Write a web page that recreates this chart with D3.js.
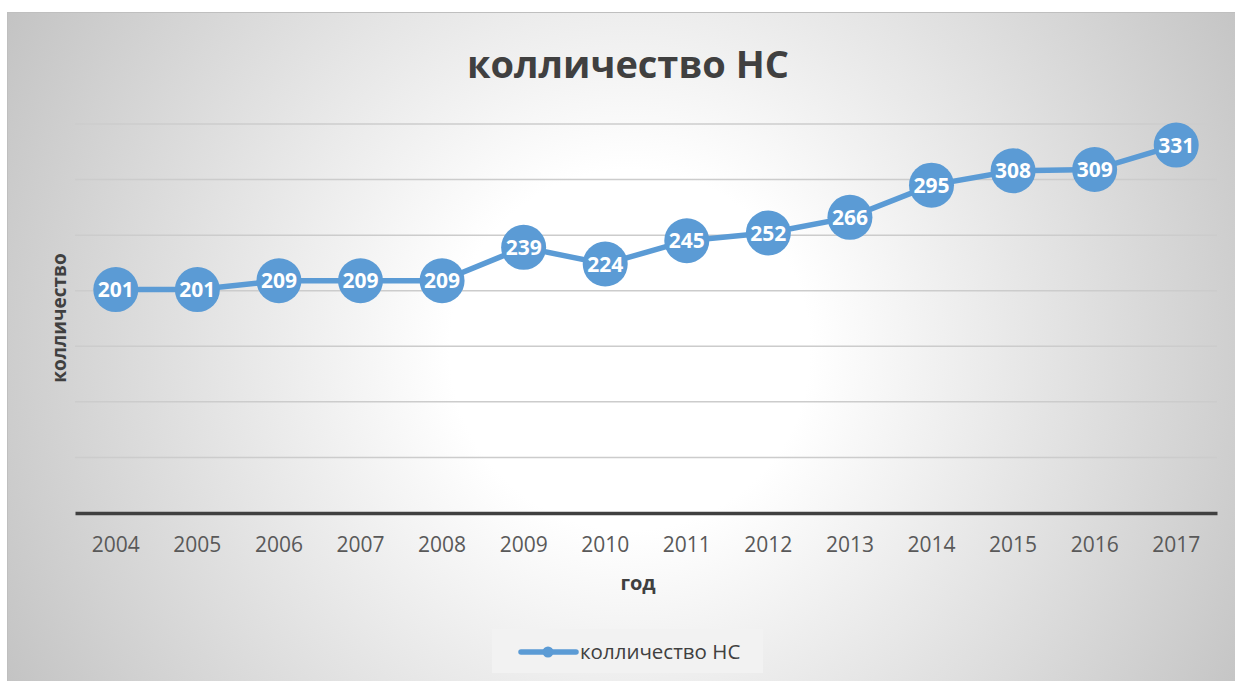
<!DOCTYPE html>
<html><head><meta charset="utf-8">
<script src="https://cdn.jsdelivr.net/npm/d3@7"></script>
<style>html,body{margin:0;padding:0;background:#fff;}svg{display:block;}</style>
</head><body>
<svg id="c" width="1235" height="681"></svg>
<script>
const years = ["2004","2005","2006","2007","2008","2009","2010","2011","2012","2013","2014","2015","2016","2017"];
const values = [201,201,209,209,209,239,224,245,252,266,295,308,309,331];
const yTicks = [0,50,100,150,200,250,300,350];
const seriesName = "колличество НС";
const titleText = "колличество НС";
const xTitle = "год";
const yTitle = "колличество";

(function(){
const svg = d3.select("#c");
const font = "'Open Sans', 'Liberation Sans', sans-serif";
const defs = svg.append("defs");
const rg = defs.append("radialGradient").attr("id","bg")
  .attr("gradientUnits","userSpaceOnUse").attr("cx",630).attr("cy",350).attr("r",720);
rg.append("stop").attr("offset","0.25").attr("stop-color","#ffffff");
rg.append("stop").attr("offset","1").attr("stop-color","#c2c2c2");

svg.append("rect").attr("x",7.5).attr("y",12.5).attr("width",1230).attr("height",670)
  .attr("fill","url(#bg)").attr("stroke","#bfbfbf").attr("stroke-width",1);

const pl=75, pr=1217, pt=124, pb=513;
const x = d3.scaleBand().domain(years).range([pl,pr]);
const y = d3.scaleLinear().domain([0,350]).range([pb,pt]);

svg.append("g").selectAll("line").data(yTicks.filter(d=>d>0)).join("line")
  .attr("x1",pl).attr("x2",pr).attr("y1",d=>y(d)).attr("y2",d=>y(d))
  .attr("stroke","#cccccc").attr("stroke-width",1.5);

const xa = svg.append("g").attr("transform",`translate(0,${pb})`)
  .call(d3.axisBottom(x).tickSize(0).tickPadding(24));
xa.select(".domain").attr("stroke","#404040").attr("stroke-width",3.5);
xa.selectAll("text").attr("font-family",font).attr("font-size",21).attr("fill","#595959");

const line = d3.line().x((d,i)=>x(years[i])+x.bandwidth()/2).y(d=>y(d));
svg.append("path").datum(values).attr("d",line).attr("fill","none")
  .attr("stroke","#5b9bd5").attr("stroke-width",5.5);

const pts = svg.append("g").selectAll("g").data(values).join("g")
  .attr("transform",(d,i)=>`translate(${x(years[i])+x.bandwidth()/2},${y(d)})`);
pts.append("circle").attr("r",22.5).attr("fill","#5b9bd5");
pts.append("text").text(d=>d).attr("text-anchor","middle").attr("dy","0.37em")
  .attr("font-family",font).attr("font-weight","bold").attr("font-size",21).attr("fill","#fff");

svg.append("text").text(titleText).attr("x",628).attr("y",78).attr("text-anchor","middle")
  .attr("font-family",font).attr("font-weight","bold").attr("font-size",38).attr("fill","#404040");
svg.append("text").text(xTitle).attr("x",638).attr("y",590).attr("text-anchor","middle")
  .attr("font-family",font).attr("font-weight","bold").attr("font-size",20).attr("fill","#404040");
svg.append("text").text(yTitle).attr("transform","translate(66,318) rotate(-90)").attr("text-anchor","middle")
  .attr("font-family",font).attr("font-weight","bold").attr("font-size",19).attr("fill","#404040");

const lg = svg.append("g");
lg.append("rect").attr("x",492).attr("y",629).attr("width",271).attr("height",44).attr("fill","#f2f2f2");
lg.append("line").attr("x1",521).attr("x2",576).attr("y1",652).attr("y2",652)
  .attr("stroke","#5b9bd5").attr("stroke-width",5.5).attr("stroke-linecap","round");
lg.append("circle").attr("cx",548).attr("cy",652).attr("r",5.5).attr("fill","#5b9bd5");
lg.append("text").text(seriesName).attr("x",580).attr("y",659)
  .attr("font-family",font).attr("font-size",20.5).attr("fill","#404040");
})();
</script>
</body></html>
